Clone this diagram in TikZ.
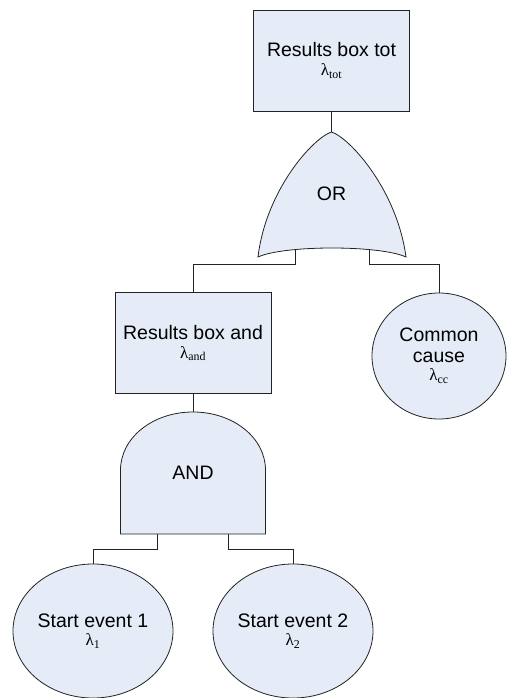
\documentclass[tikz,border=0pt]{standalone}
\usepackage{fontspec}
\setmainfont{Liberation Sans}
\newfontfamily\lamfont{Liberation Serif}
\usetikzlibrary{shapes.geometric}
\definecolor{gatefill}{RGB}{230,236,247}
\definecolor{edgecol}{RGB}{35,35,35}

\newcommand{\lam}[1]{{\lamfont\fontsize{17}{18}\selectfont λ\textsubscript{#1}}}

\begin{document}
\begin{tikzpicture}[x=1pt,y=-1pt,
  wire/.style={draw=edgecol, line width=0.8pt},
  gate/.style={draw=edgecol, fill=gatefill, line width=0.8pt},
  resbox/.style={gate, rectangle, minimum width=156pt, minimum height=101pt,
    align=center, inner sep=0pt, font=\fontsize{19.5}{22}\selectfont},
  evt/.style={gate, ellipse, inner sep=0pt, align=center,
    font=\fontsize{19.5}{21}\selectfont},
  gatelabel/.style={font=\fontsize{19.5}{22}\selectfont}
]
\useasboundingbox (0,0) rectangle (522,698);

% result boxes and basic events
\node[resbox] (tot) at (331.5,60.5) {Results box tot\\[-3pt]\lam{tot}};
\node[resbox] (andbox) at (193,343) {Results box and\\[-3pt]\lam{and}};
\node[evt, minimum width=134pt, minimum height=126pt] (cc) at (439,356)
  {Common\\cause\\[-3pt]\lam{cc}};
\node[evt, minimum width=160pt, minimum height=134pt] (e1) at (93,631)
  {Start event 1\\[-3pt]\lam{1}};
\node[evt, minimum width=160pt, minimum height=134pt] (e2) at (293,631)
  {Start event 2\\[-3pt]\lam{2}};

% attachment points of the gates
\coordinate (orTop) at (331.5,132);
\coordinate (orL) at (295,250);
\coordinate (orLb) at (295,264);
\coordinate (orR) at (369,250);
\coordinate (orRb) at (369,264);
\coordinate (andTop) at (193,412);
\coordinate (andL) at (157,530);
\coordinate (andLb) at (157,549);
\coordinate (andR) at (228,530);
\coordinate (andRb) at (228,549);

% connectors (drawn before the gates so the gate bodies cover their ends)
\draw[wire] (tot.south) -- (orTop);
\draw[wire] (orL) -- (orLb) -| (andbox.north);
\draw[wire] (orR) -- (orRb) -| (cc.north);
\draw[wire] (andbox.south) -- (andTop);
\draw[wire] (andL) -- (andLb) -| (e1.north);
\draw[wire] (andR) -- (andRb) -| (e2.north);

% OR gate
\draw[gate] (258,257) .. controls (266,190) and (313,138) .. (orTop)
  .. controls (350,138) and (397,190) .. (406,257)
  .. controls (380,245) and (284,245) .. (258,257) -- cycle;
\node[gatelabel] (orlabel) at (331.5,194) {OR};

% AND gate
\draw[gate] (120.5,534) -- (120.5,470)
  .. controls (120.5,438) and (152.5,412) .. (andTop)
  .. controls (233.5,412) and (265.5,438) .. (265.5,470)
  -- (265.5,534) -- cycle;
\node[gatelabel] (andlabel) at (193,473) {AND};
\end{tikzpicture}
\end{document}
